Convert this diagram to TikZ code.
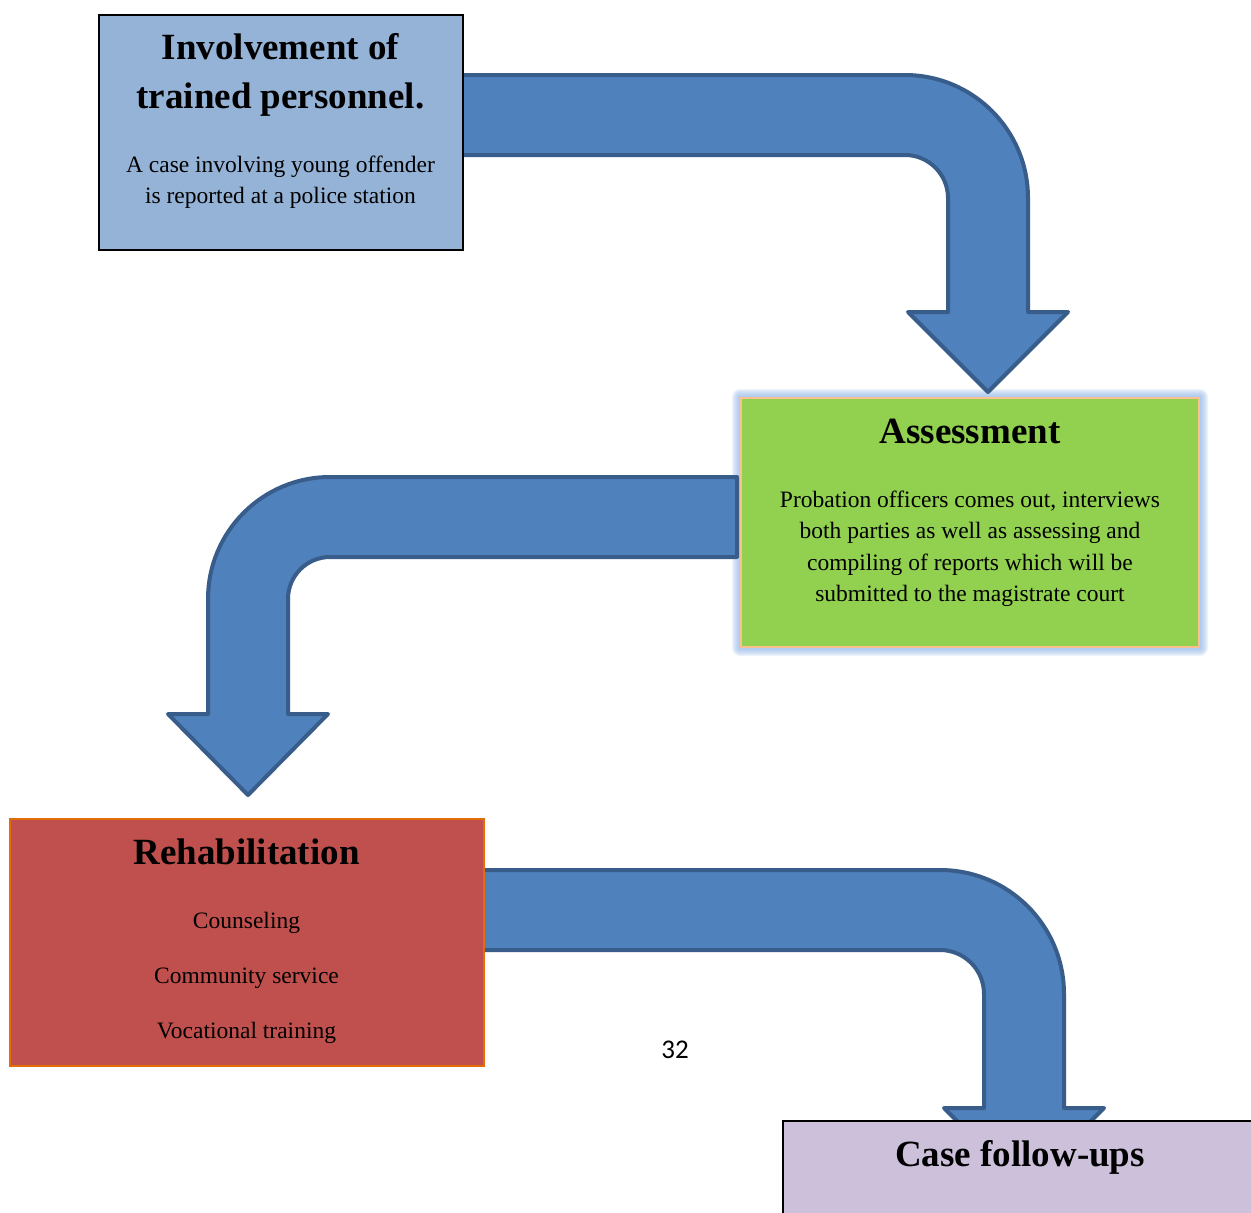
\documentclass[tikz,border=0pt]{standalone}
\usepackage{fontspec}
\setmainfont{Liberation Serif}
\newfontfamily\pagenumfont{Carlito}
\definecolor{arrowfill}{HTML}{4F81BD}
\definecolor{arrowline}{HTML}{385D8A}
\definecolor{boxblue}{HTML}{95B3D7}
\definecolor{boxgreen}{HTML}{92D050}
\definecolor{boxgreenline}{HTML}{FAC090}
\definecolor{boxred}{HTML}{C0504D}
\definecolor{boxredline}{HTML}{E36C09}
\definecolor{boxlav}{HTML}{CCC0DA}
\definecolor{glowcol}{HTML}{9DBFEC}
\tikzset{
  blockarrow/.style={fill=arrowfill, draw=arrowline, line width=4pt, line join=round},
  stagebox/.style={rectangle, inner sep=0pt, line width=2pt},
  ttl/.style={font=\fontsize{37}{44}\selectfont\bfseries, inner sep=0pt, anchor=base},
  bodytxt/.style={font=\fontsize{23.5}{30}\selectfont, inner sep=0pt, anchor=base},
}
\begin{document}
\begin{tikzpicture}[x=1pt,y=-1pt]
\clip (0,0) rectangle (1251,1213);
\fill[white] (0,0) rectangle (1251,1213);

% Assessment box with soft glow
\foreach \d in {8,7,6,5,4,3,2,1}{
  \fill[glowcol, opacity=0.16, rounded corners=\d pt] (740-\d,397-\d) rectangle (1200+\d,648+\d);
}
\node[stagebox, fill=boxgreen, draw=boxgreenline, minimum width=458pt, minimum height=249pt] (b2) at (970,522.5) {};

% Block arrows
\draw[blockarrow] (440,75) -- (905,75) .. controls (972.9,75) and (1028,130.1) .. (1028,198)
  -- (1028,312) -- (1068,312) -- (988,392) -- (908,312) -- (948,312) -- (948,198)
  .. controls (948,174.3) and (928.7,155) .. (905,155) -- (440,155) -- cycle;
\draw[blockarrow] (737,477) -- (330,477) .. controls (262.6,477) and (208,531.6) .. (208,599)
  -- (208,714) -- (168,714) -- (248,795) -- (328,714) -- (288,714) -- (288,599)
  .. controls (288,575.8) and (306.8,557) .. (330,557) -- (737,557) -- cycle;
\draw[blockarrow] (470,870) -- (940,870) .. controls (1008.5,870) and (1064,925.5) .. (1064,994)
  -- (1064,1108) -- (1104,1108) -- (1024,1188) -- (944,1108) -- (984,1108) -- (984,994)
  .. controls (984,969.7) and (964.3,950) .. (940,950) -- (470,950) -- cycle;

% Other boxes
\node[stagebox, fill=boxblue, draw=black, minimum width=364pt, minimum height=235pt] (b1) at (280.5,132) {};
\node[stagebox, fill=boxred, draw=boxredline, minimum width=474pt, minimum height=247pt] (b3) at (246.5,942) {};
\node[stagebox, fill=boxlav, draw=black, minimum width=474pt, minimum height=140pt] (b4) at (1020,1191) {};

% Texts
\node[ttl] (t1a) at (280.5,59) {Involvement of};
\node[ttl] (t1b) at (280.5,108) {trained personnel.};
\node[bodytxt] (t1c) at (280.5,172) {A case involving young offender};
\node[bodytxt] (t1d) at (280.5,203.5) {is reported at a police station};

\node[ttl] (t2a) at (970,443) {Assessment};
\node[bodytxt] (t2b) at (970,507) {Probation officers comes out, interviews};
\node[bodytxt] (t2c) at (970,538.5) {both parties as well as assessing and};
\node[bodytxt] (t2d) at (970,570) {compiling of reports which will be};
\node[bodytxt] (t2e) at (970,601.5) {submitted to the magistrate court};

\node[ttl] (t3a) at (246.5,864) {Rehabilitation};
\node[bodytxt] (t3b) at (246.5,928) {Counseling};
\node[bodytxt] (t3c) at (246.5,983) {Community service};
\node[bodytxt] (t3d) at (246.5,1038) {Vocational training};

\node[ttl] (t4a) at (1020,1166) {Case follow-ups};

\node[font=\fontsize{27}{32}\selectfont\pagenumfont, inner sep=0pt, anchor=base] (pg) at (675,1058) {32};
\end{tikzpicture}
\end{document}
